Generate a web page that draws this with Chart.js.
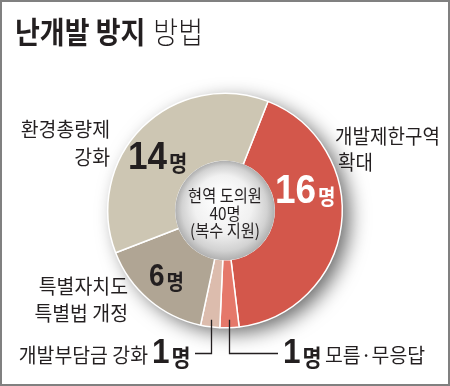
<!DOCTYPE html>
<html><head><meta charset="utf-8">
<script src="https://cdn.jsdelivr.net/npm/chart.js@4/dist/chart.umd.min.js"></script>
<style>
html,body{margin:0;padding:0;background:#fff;}
#wrap{width:450px;height:386px;position:relative;}
canvas{display:block;}
</style></head>
<body><div id="wrap"><canvas id="c" width="450" height="386"></canvas></div>
<script>
const titleBold = '난개발 방지';
const titleLight = '방법';
const categories = ['개발제한구역 확대', '모름·무응답', '개발부담금 강화', '특별자치도 특별법 개정', '환경총량제 강화'];
const values = [16, 1, 1, 6, 14];
const unit = '명';
const centerLines = ['현역 도의원', '40명', '(복수 지원)'];
const colors = ['#d3574b', '#e5786a', '#dcbcad', '#b0a594', '#cdc6b3'];

const KR = '"Noto Sans CJK KR", "Noto Sans", sans-serif';
const NUM = '"Liberation Sans", Arial, sans-serif';
const INK = '#231f20';

function txt(ctx, s, x, y, font, color, align, sx) {
  ctx.save();
  ctx.font = font;
  ctx.fillStyle = color;
  ctx.textBaseline = 'middle';
  const w = ctx.measureText(s).width * sx;
  let x0 = x;
  if (align === 'right') x0 = x - w;
  else if (align === 'center') x0 = x - w / 2;
  ctx.translate(x0, y);
  ctx.scale(sx, 1);
  ctx.textAlign = 'left';
  ctx.fillText(s, 0, 0);
  ctx.restore();
  return w;
}
function numLabel(ctx, n, x, y, numSize, unitSize, color) {
  const w = txt(ctx, String(n), x, y, 'bold ' + numSize + 'px ' + NUM, color, 'left', 0.9);
  txt(ctx, unit, x + w + 2, y + numSize * 0.1, 'bold ' + unitSize + 'px ' + KR, color, 'left', 0.9);
}

const decor = {
  id: 'decor',
  beforeDraw(chart) {
    const ctx = chart.ctx;
    ctx.save();
    ctx.fillStyle = '#fff';
    ctx.fillRect(0, 0, chart.width, chart.height);
    ctx.restore();
  },
  beforeDatasetsDraw(chart) {
    const arc = chart.getDatasetMeta(0).data[0];
    const ctx = chart.ctx;
    ctx.save();
    ctx.shadowColor = 'rgba(0,0,0,0.6)';
    ctx.shadowBlur = 20;
    ctx.shadowOffsetX = 8;
    ctx.shadowOffsetY = 6;
    ctx.fillStyle = '#bbb';
    ctx.beginPath();
    ctx.arc(arc.x, arc.y, arc.outerRadius - 1, 0, Math.PI * 2);
    ctx.fill();
    ctx.restore();
  },
  afterDatasetsDraw(chart) {
    const ctx = chart.ctx;
    const meta = chart.getDatasetMeta(0);
    const a0 = meta.data[0];
    const cx = a0.x, cy = a0.y, R = a0.outerRadius, r = a0.innerRadius;
    ctx.save();
    const g = ctx.createRadialGradient(cx - 4, cy - 14, 4, cx, cy, r);
    g.addColorStop(0, '#ffffff');
    g.addColorStop(0.55, '#f1f1f1');
    g.addColorStop(0.85, '#d2d2d2');
    g.addColorStop(1, '#b2b2b2');
    ctx.fillStyle = g;
    ctx.beginPath();
    ctx.arc(cx, cy, r + 0.5, 0, Math.PI * 2);
    ctx.fill();
    ctx.restore();

    const cf = '17px ' + KR;
    txt(ctx, centerLines[0], cx, cy - 15, cf, INK, 'center', 0.9);
    txt(ctx, centerLines[1], cx, cy + 3, cf, INK, 'center', 0.9);
    txt(ctx, centerLines[2], cx, cy + 20, cf, INK, 'center', 0.9);

    numLabel(ctx, values[0], cx + 50, cy - 19, 41, 21, '#fff');
    numLabel(ctx, values[4], cx - 97, cy - 52, 39, 22, INK);
    numLabel(ctx, values[3], cx - 76, cy + 67, 31, 21, INK);

    const f = '20px ' + KR;
    txt(ctx, '개발제한구역', cx + 110, cy - 74, f, INK, 'left', 0.95);
    txt(ctx, '확대', cx + 113, cy - 48, f, INK, 'left', 0.95);
    txt(ctx, '환경총량제', cx - 115, cy - 81, f, INK, 'right', 0.97);
    txt(ctx, '강화', cx - 115, cy - 53, f, INK, 'right', 0.97);
    txt(ctx, '특별자치도', cx - 97, cy + 76, f, INK, 'right', 0.97);
    txt(ctx, '특별법 개정', cx - 97, cy + 103, f, INK, 'right', 0.97);

    const pink = meta.data[2], orange = meta.data[1];
    const xp = cx + Math.cos((pink.startAngle + pink.endAngle) / 2) * (R - 6);
    const xo = cx + Math.cos((orange.startAngle + orange.endAngle) / 2) * (R - 6);
    const yStart = cy + R - 8;
    const yLine = cy + 143;
    ctx.save();
    ctx.strokeStyle = INK;
    ctx.lineWidth = 1.3;
    ctx.beginPath();
    ctx.moveTo(Math.round(xp) + 0.5, yStart);
    ctx.lineTo(Math.round(xp) + 0.5, yLine);
    ctx.lineTo(cx - 30, yLine);
    ctx.moveTo(Math.round(xo) + 0.5, yStart);
    ctx.lineTo(Math.round(xo) + 0.5, yLine);
    ctx.lineTo(cx + 53, yLine);
    ctx.stroke();
    ctx.restore();

    const yb = cy + 145;
    txt(ctx, '개발부담금 강화', cx - 77, yb, '20px ' + KR, INK, 'right', 0.97);
    numLabel(ctx, values[2], cx - 73, yb - 2, 35, 23, INK);
    numLabel(ctx, values[1], cx + 58, yb - 2, 35, 23, INK);
    txt(ctx, '모름·무응답', cx + 100, yb, '20px ' + KR, INK, 'left', 0.97);
  },
  afterDraw(chart) {
    const ctx = chart.ctx;
    const w = txt(ctx, titleBold, 15, 32, 'bold 30px ' + KR, INK, 'left', 0.9);
    txt(ctx, titleLight, 15 + w + 8, 32, '300 30px ' + KR, INK, 'left', 0.9);
    ctx.save();
    ctx.strokeStyle = '#808080';
    ctx.lineWidth = 2;
    ctx.strokeRect(1, 1, chart.width - 2, chart.height - 2);
    ctx.restore();
  }
};

new Chart(document.getElementById('c'), {
  type: 'doughnut',
  data: {
    labels: categories,
    datasets: [{
      data: values,
      backgroundColor: colors,
      borderColor: '#ffffff',
      borderWidth: 1.5,
      hoverOffset: 0
    }]
  },
  options: {
    responsive: false,
    animation: false,
    rotation: 21.5,
    cutout: '42%',
    layout: { padding: { left: 107, right: 107, top: 92, bottom: 57 } },
    plugins: { legend: { display: false }, tooltip: { enabled: false }, title: { display: false } },
    events: []
  },
  plugins: [decor]
});
</script></body></html>
